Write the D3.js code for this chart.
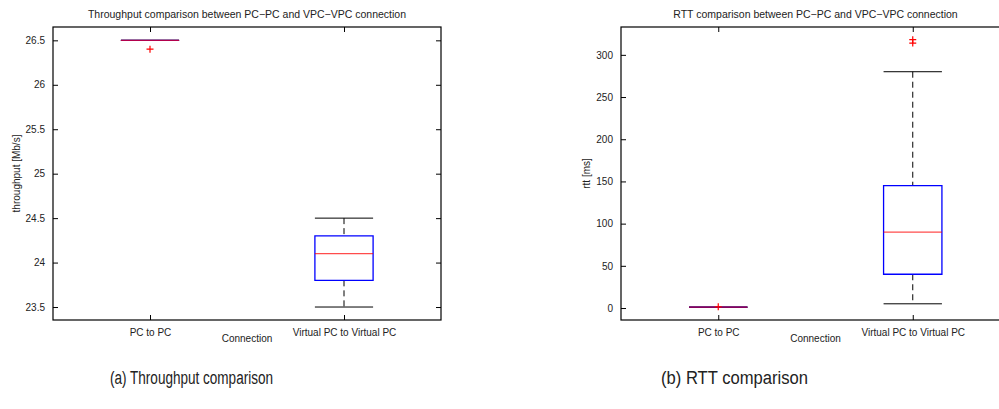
<!DOCTYPE html>
<html>
<head>
<meta charset="utf-8">
<script src="https://cdn.jsdelivr.net/npm/d3@7/dist/d3.min.js"></script>
<style>
  html, body { margin: 0; padding: 0; background: #fff; }
  svg { display: block; }
  text { font-family: "Liberation Sans", Arial, Helvetica, sans-serif; fill: #222; }
</style>
</head>
<body>
<svg id="fig" width="999" height="409"></svg>
<script>
// Categories shared by both panels
const categories = ["PC to PC", "Virtual PC to Virtual PC"];

// Throughput box statistics [Mb/s]
const tpLowerWhisker = [26.5, 23.5];
const tpQ1 = [26.5, 23.8];
const tpMedian = [26.5, 24.1];
const tpQ3 = [26.5, 24.3];
const tpUpperWhisker = [26.5, 24.5];
const tpOutliers = [[26.4], []];
const tpTicks = [23.5, 24, 24.5, 25, 25.5, 26, 26.5];

// RTT box statistics [ms]
const rttLowerWhisker = [1, 5];
const rttQ1 = [1, 40];
const rttMedian = [1, 90];
const rttQ3 = [1, 145];
const rttUpperWhisker = [1, 280];
const rttOutliers = [[1.5], [314, 318]];
const rttTicks = [0, 50, 100, 150, 200, 250, 300];

const svg = d3.select("#fig");

function boxPanel(opts) {
  const { left, top, width, height, yDomain, yTicks, title, yLabel,
          lw, q1, med, q3, uw, outl, fmt } = opts;
  const g = svg.append("g").attr("transform", `translate(${left},${top})`);

  const x = d3.scaleLinear().domain([0.5, 2.5]).range([0, width]);
  const y = d3.scaleLinear().domain(yDomain).range([height, 0]);
  const pos = categories.map((c, i) => i + 1);
  const boxW = 0.3, capW = 0.15;

  // Axes with inward ticks on all four sides
  const axL = g.append("g").call(d3.axisLeft(y).tickValues(yTicks).tickFormat(fmt).tickSizeInner(-5).tickSizeOuter(0).tickPadding(8));
  const axR = g.append("g").attr("transform", `translate(${width},0)`)
    .call(d3.axisRight(y).tickValues(yTicks).tickFormat("").tickSizeInner(-5).tickSizeOuter(0));
  const axB = g.append("g").attr("transform", `translate(0,${height})`)
    .call(d3.axisBottom(x).tickValues(pos).tickFormat((d, i) => categories[i]).tickSizeInner(-5).tickSizeOuter(0).tickPadding(9));
  const axT = g.append("g")
    .call(d3.axisTop(x).tickValues(pos).tickFormat("").tickSizeInner(-5).tickSizeOuter(0));
  [axL, axR, axB, axT].forEach(a => {
    a.select(".domain").remove();
    a.selectAll(".tick line").attr("stroke", "#000");
    a.selectAll("text").attr("font-size", 10).attr("fill", "#222");
  });

  // Frame
  g.append("rect").attr("x", 0).attr("y", 0).attr("width", width).attr("height", height)
    .attr("fill", "none").attr("stroke", "#000").attr("stroke-width", 1.2);

  const boxes = g.append("g");
  pos.forEach((p, i) => {
    const cx = x(p);
    const hw = x(p + boxW / 2) - cx;
    const cw = x(p + capW) - cx;
    // whiskers
    boxes.append("line").attr("x1", cx).attr("x2", cx).attr("y1", y(uw[i])).attr("y2", y(q3[i]))
      .attr("stroke", "#000").attr("stroke-dasharray", "6,4");
    boxes.append("line").attr("x1", cx).attr("x2", cx).attr("y1", y(q1[i])).attr("y2", y(lw[i]))
      .attr("stroke", "#000").attr("stroke-dasharray", "6,4");
    // caps
    boxes.append("line").attr("x1", cx - cw).attr("x2", cx + cw).attr("y1", y(uw[i])).attr("y2", y(uw[i]))
      .attr("stroke", "#000");
    boxes.append("line").attr("x1", cx - cw).attr("x2", cx + cw).attr("y1", y(lw[i])).attr("y2", y(lw[i]))
      .attr("stroke", "#000");
    // box outline (path, so a collapsed box still shows as a line)
    const yt = y(q3[i]), yb = y(q1[i]);
    boxes.append("path")
      .attr("d", `M${cx - hw},${yt}H${cx + hw}V${yb}H${cx - hw}Z`)
      .attr("fill", "none").attr("stroke", "#0000ff").attr("stroke-width", 1.3);
    // median
    boxes.append("line").attr("x1", cx - hw).attr("x2", cx + hw).attr("y1", y(med[i])).attr("y2", y(med[i]))
      .attr("stroke", "#ff0000").attr("stroke-width", 1.2).attr("stroke-opacity", 0.7);
    // outliers
    outl[i].forEach(v => {
      const oy = y(v);
      boxes.append("path").attr("d", `M${cx - 3.5},${oy}H${cx + 3.5}M${cx},${oy - 3.5}V${oy + 3.5}`)
        .attr("stroke", "#ff0000").attr("stroke-width", 1.2).attr("fill", "none");
    });
  });

  // Title and axis labels
  g.append("text").attr("x", width / 2).attr("y", -9).attr("text-anchor", "middle")
    .attr("font-size", 10.5).text(title);
  g.append("text").attr("x", width / 2).attr("y", height + 22).attr("text-anchor", "middle")
    .attr("font-size", 10).text("Connection");
  g.append("text").attr("transform", `translate(${opts.yLabelX},${height / 2}) rotate(-90)`)
    .attr("text-anchor", "middle").attr("font-size", 10).text(yLabel);
}

boxPanel({
  left: 53, top: 27, width: 388, height: 293,
  yDomain: [23.354, 26.65], yTicks: tpTicks, fmt: d3.format(""),
  title: "Throughput comparison between PC\u2212PC and VPC\u2212VPC connection",
  yLabel: "throughput [Mb/s]", yLabelX: -33,
  lw: tpLowerWhisker, q1: tpQ1, med: tpMedian, q3: tpQ3, uw: tpUpperWhisker, outl: tpOutliers
});

boxPanel({
  left: 621, top: 27, width: 389, height: 293,
  yDomain: [-14.2, 333], yTicks: rttTicks, fmt: d3.format(""),
  title: "RTT comparison between PC\u2212PC and VPC\u2212VPC connection",
  yLabel: "rtt [ms]", yLabelX: -31,
  lw: rttLowerWhisker, q1: rttQ1, med: rttMedian, q3: rttQ3, uw: rttUpperWhisker, outl: rttOutliers
});

// Sub-figure captions (condensed)
svg.append("text").attr("x", 110).attr("y", 384)
  .attr("font-size", 18).attr("textLength", 163).attr("lengthAdjust", "spacingAndGlyphs")
  .text("(a) Throughput comparison");
svg.append("text").attr("x", 661).attr("y", 384)
  .attr("font-size", 18).attr("textLength", 147).attr("lengthAdjust", "spacingAndGlyphs")
  .text("(b) RTT comparison");
</script>
</body>
</html>
